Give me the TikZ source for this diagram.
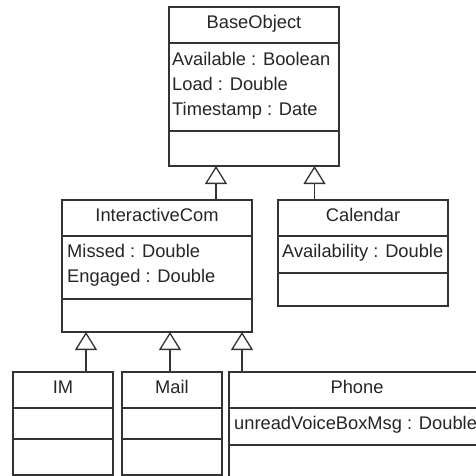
\documentclass[tikz,border=0pt]{standalone}
\usepackage{fontspec}
\setmainfont{Liberation Sans}
\usetikzlibrary{arrows.meta}
\begin{document}
\begin{tikzpicture}[x=1pt,y=-1pt,
  box/.style={draw=black!80, line width=1.3pt, fill=white, anchor=north west, inner sep=0pt, outer sep=0pt},
  sep/.style={draw=black!80, line width=1.3pt},
  ttl/.style={font=\fontsize{18.3}{20}\selectfont, text=black!85, inner sep=0pt, anchor=base},
  attr/.style={font=\fontsize{18.3}{20}\selectfont, text=black!85, inner sep=0pt, anchor=base west},
  gen/.style={draw=black!80, line width=1.3pt, -{Triangle[open, length=18pt, width=22pt, fill=white]}}]
\useasboundingbox (0,0) rectangle (476,476);
\clip (0,0) rectangle (476,476);
\fill[white] (0,0) rectangle (476,476);

% BaseObject
\node[box, minimum width=170pt, minimum height=159pt] (base) at (169,7) {};
\draw[sep] (base.west |- 0,43) -- (base.east |- 0,43);
\draw[sep] (base.west |- 0,131) -- (base.east |- 0,131);
\node[ttl] (baseT) at (254,29) {BaseObject};
\node[attr] (baseA1) at (172,66) {Available : Boolean};
\node[attr] (baseA2) at (172,91) {Load : Double};
\node[attr] (baseA3) at (172,116) {Timestamp : Date};

% InteractiveCom
\node[box, minimum width=190pt, minimum height=132pt] (ic) at (62,200) {};
\draw[sep] (ic.west |- 0,236) -- (ic.east |- 0,236);
\draw[sep] (ic.west |- 0,299) -- (ic.east |- 0,299);
\node[ttl] (icT) at (157,221) {InteractiveCom};
\node[attr] (icA1) at (67,257) {Missed : Double};
\node[attr] (icA2) at (67,282) {Engaged : Double};

% Calendar
\node[box, minimum width=170pt, minimum height=106pt] (cal) at (278,200) {};
\draw[sep] (cal.west |- 0,236) -- (cal.east |- 0,236);
\draw[sep] (cal.west |- 0,273) -- (cal.east |- 0,273);
\node[ttl] (calT) at (363,221) {Calendar};
\node[attr] (calA1) at (282,257) {Availability : Double};

% IM
\node[box, minimum width=100pt, minimum height=103pt] (im) at (13,372) {};
\draw[sep] (im.west |- 0,408) -- (im.east |- 0,408);
\draw[sep] (im.west |- 0,439) -- (im.east |- 0,439);
\node[ttl] (imT) at (63,393) {IM};

% Mail
\node[box, minimum width=100pt, minimum height=103pt] (mail) at (122,372) {};
\draw[sep] (mail.west |- 0,408) -- (mail.east |- 0,408);
\draw[sep] (mail.west |- 0,439) -- (mail.east |- 0,439);
\node[ttl] (mailT) at (172,393) {Mail};

% Phone
\node[box, minimum width=256pt, minimum height=130pt] (phone) at (229,372) {};
\draw[sep] (phone.west |- 0,408) -- (phone.east |- 0,408);
\draw[sep] (phone.west |- 0,445) -- (phone.east |- 0,445);
\node[ttl] (phoneT) at (357,393) {Phone};
\node[attr] (phoneA1) at (234,429) {unreadVoiceBoxMsg : Double};

% generalization connectors
\coordinate (g1) at (216,0);
\coordinate (g2) at (314.5,0);
\coordinate (g3) at (86,0);
\coordinate (g4) at (170,0);
\coordinate (g5) at (242,0);
\draw[gen] (ic.north -| g1) -- (base.south -| g1);
\draw[gen] (cal.north -| g2) -- (base.south -| g2);
\draw[gen] (im.north -| g3) -- (ic.south -| g3);
\draw[gen] (mail.north -| g4) -- (ic.south -| g4);
\draw[gen] (phone.north -| g5) -- (ic.south -| g5);
\end{tikzpicture}
\end{document}
